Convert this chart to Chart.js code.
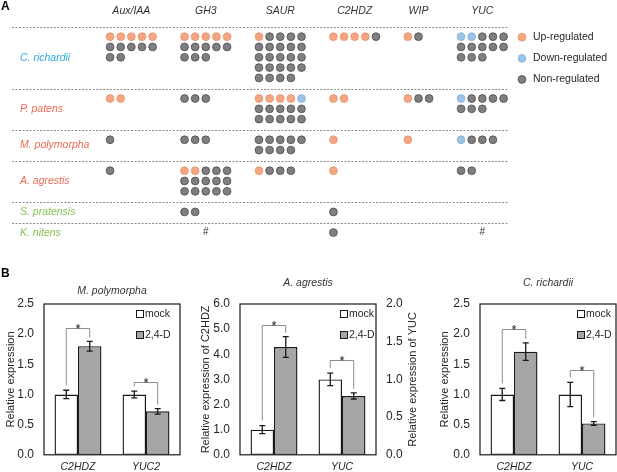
<!DOCTYPE html>
<html>
<head>
<meta charset="utf-8">
<script src="https://cdn.jsdelivr.net/npm/chart.js@4.4.1/dist/chart.umd.min.js"></script>
<style>
  body { margin: 0; background: #fff; }
  #wrap { position: relative; width: 617px; height: 472px; }
  canvas { position: absolute; }
</style>
</head>
<body>
<div id="wrap">
  <canvas id="panelA" width="617" height="258" style="left:0;top:0"></canvas>
  <canvas id="mpChart" width="190" height="210" style="left:0;top:262px"></canvas>
  <canvas id="aaChart" width="230" height="210" style="left:195px;top:262px"></canvas>
  <canvas id="crChart" width="183" height="210" style="left:434px;top:262px"></canvas>
</div>
<script>
const FONT = "'Liberation Sans', Arial, sans-serif";

// ---- panel A: gene family counts per species ----
const genes = ['Aux/IAA', 'GH3', 'SAUR', 'C2HDZ', 'WIP', 'YUC'];
const species = ['C. richardii', 'P. patens', 'M. polymorpha', 'A. agrestis', 'S. pratensis', 'K. nitens'];
const upReg = [
  [5, 5, 1, 4, 1, 0],
  [2, 0, 4, 2, 1, 0],
  [0, 0, 0, 1, 1, 0],
  [0, 2, 1, 1, 0, 0],
  [0, 0, 0, 0, 0, 0],
  [0, 0, 0, 0, 0, 0]
];
const downReg = [
  [0, 0, 0, 0, 0, 2],
  [0, 0, 1, 0, 0, 1],
  [0, 0, 0, 0, 0, 1],
  [0, 0, 0, 0, 0, 0],
  [0, 0, 0, 0, 0, 0],
  [0, 0, 0, 0, 0, 0]
];
// null = marked with '#'
const nonReg = [
  [7, 8, 23, 1, 1, 11],
  [0, 3, 10, 0, 2, 7],
  [1, 3, 9, 0, 0, 3],
  [1, 13, 3, 0, 0, 2],
  [0, 2, 0, 1, 0, 0],
  [0, null, 0, 1, 0, null]
];
const regLabels = ['Up-regulated', 'Down-regulated', 'Non-regulated'];

// ---- panel B: qRT-PCR ----
const mpGenes = ['C2HDZ', 'YUC2'];
const mpMock = [1.0, 1.0];
const mpMockErr = [0.07, 0.055];
const mpTreat = [1.8, 0.72];
const mpTreatErr = [0.08, 0.045];
const mpSigTop = [2.1, 1.2];
const mpTicks = [0, 0.5, 1.0, 1.5, 2.0, 2.5];

const aaGenes = ['C2HDZ', 'YUC'];
const aaMock = [1.0, 1.0];
const aaMockErr = [0.16, 0.083];
const aaTreat = [4.29, 0.78];
const aaTreatErr = [0.41, 0.04];
const aaSigTop = [5.17, 1.26];
const aaTicksLeft = [0, 1.0, 2.0, 3.0, 4.0, 5.0, 6.0];
const aaTicksRight = [0, 0.5, 1.0, 1.5, 2.0];

const crGenes = ['C2HDZ', 'YUC'];
const crMock = [1.0, 1.0];
const crMockErr = [0.1, 0.2];
const crTreat = [1.71, 0.52];
const crTreatErr = [0.145, 0.03];
const crSigTop = [2.09, 1.4];
const crTicks = [0, 0.5, 1.0, 1.5, 2.0, 2.5];

const dotStyle = {
  up:   { fill: '#f4a582', line: '#e8936c' },
  down: { fill: '#9dc3e6', line: '#86b0d8' },
  non:  { fill: '#7f7f7f', line: '#4d4d4d' }
};
const speciesColors = ['#2ea7dc', '#ec6b55', '#ec6b55', '#ec6b55', '#86c157', '#86c157'];

// layout of the dot grid
const perRow = 5;
const total = (i, j) => upReg[i][j] + downReg[i][j] + (nonReg[i][j] || 0);
const colWidth = genes.map((g, j) => Math.min(perRow, Math.max(...species.map((s, i) => total(i, j)))));
const colStart = [];
let acc = 0;
colWidth.forEach(w => { colStart.push(acc); acc += w + 2; });
const rowCount = species.map((s, i) => Math.max(1, ...genes.map((g, j) => Math.ceil(total(i, j) / perRow))));
const secStart = [];
acc = 0;
rowCount.forEach(n => { secStart.push(acc); acc += n + 1; });

const pts = { up: [], down: [], non: [] };
species.forEach((s, i) => {
  genes.forEach((g, j) => {
    const list = [];
    for (let k = 0; k < upReg[i][j]; k++) list.push('up');
    for (let k = 0; k < downReg[i][j]; k++) list.push('down');
    for (let k = 0; k < (nonReg[i][j] || 0); k++) list.push('non');
    list.forEach((t, k) => {
      pts[t].push({ x: colStart[j] + k % perRow, y: secStart[i] + 0.95 + Math.floor(k / perRow) });
    });
  });
});

const panelAPlugin = {
  id: 'panelADecor',
  beforeDatasetsDraw(chart) {
    const { ctx, scales: { x, y } } = chart;
    ctx.save();
    ctx.strokeStyle = '#8c8c8c';
    ctx.lineWidth = 1;
    ctx.setLineDash([2, 1.5]);
    const last = genes.length - 1;
    const xEnd = x.getPixelForValue(colStart[last] + colWidth[last] - 1) + 5;
    secStart.forEach(u => {
      const py = Math.round(y.getPixelForValue(u)) + 0.5;
      ctx.beginPath();
      ctx.moveTo(12, py);
      ctx.lineTo(xEnd, py);
      ctx.stroke();
    });
    ctx.restore();
  },
  afterDraw(chart) {
    const { ctx, scales: { x, y } } = chart;
    ctx.save();
    ctx.fillStyle = '#000';
    ctx.font = 'bold 12px ' + FONT;
    ctx.textBaseline = 'alphabetic';
    ctx.fillText('A', 1, 9.5);

    ctx.textBaseline = 'middle';
    ctx.textAlign = 'center';
    ctx.font = 'italic 10.5px ' + FONT;
    ctx.fillStyle = '#333';
    genes.forEach((g, j) => {
      ctx.fillText(g, x.getPixelForValue(colStart[j] + (colWidth[j] - 1) / 2), 11);
    });

    ctx.textAlign = 'left';
    species.forEach((s, i) => {
      ctx.fillStyle = speciesColors[i];
      ctx.fillText(s, 20, y.getPixelForValue(secStart[i] + (rowCount[i] + 1) / 2));
    });

    ctx.textAlign = 'center';
    ctx.fillStyle = '#333';
    ctx.font = '10px ' + FONT;
    species.forEach((s, i) => genes.forEach((g, j) => {
      if (nonReg[i][j] === null) {
        ctx.fillText('#', x.getPixelForValue(colStart[j] + (colWidth[j] - 1) / 2), y.getPixelForValue(secStart[i] + 0.95));
      }
    }));

    // legend
    ctx.textAlign = 'left';
    ctx.font = '10.5px ' + FONT;
    ['up', 'down', 'non'].forEach((k, n) => {
      const py = y.getPixelForValue(1.0 + n * 2.05);
      ctx.beginPath();
      ctx.arc(522, py, 3.9, 0, Math.PI * 2);
      ctx.fillStyle = dotStyle[k].fill;
      ctx.fill();
      ctx.lineWidth = 0.8;
      ctx.strokeStyle = dotStyle[k].line;
      ctx.stroke();
      ctx.fillStyle = '#262626';
      ctx.fillText(regLabels[n], 533, py);
    });
    ctx.restore();
  }
};

const dotSet = (k) => ({
  data: pts[k],
  pointRadius: 3.9,
  pointHoverRadius: 3.9,
  backgroundColor: dotStyle[k].fill,
  borderColor: dotStyle[k].line,
  borderWidth: 0.8,
  clip: false
});

new Chart(document.getElementById('panelA'), {
  type: 'scatter',
  data: { datasets: [dotSet('up'), dotSet('down'), dotSet('non')] },
  options: {
    responsive: false,
    animation: false,
    layout: { padding: 0 },
    plugins: { legend: { display: false }, tooltip: { enabled: false } },
    scales: {
      x: { type: 'linear', display: false, min: -107 / 10.8, max: (617 - 107) / 10.8 },
      y: { type: 'linear', display: false, reverse: true, min: -23 / 10.7, max: (258 - 23) / 10.7 }
    }
  },
  plugins: [panelAPlugin]
});

// ---- panel B charts ----
const barDecor = {
  id: 'barDecor',
  afterDatasetsDraw(chart, args, o) {
    const { ctx, chartArea: ca } = chart;
    ctx.save();
    // frame
    ctx.strokeStyle = '#1a1a1a';
    ctx.lineWidth = 1.2;
    ctx.strokeRect(ca.left, ca.top, ca.right - ca.left, ca.bottom - ca.top);

    // error bars
    ctx.lineWidth = 1.3;
    chart.data.datasets.forEach((ds, d) => {
      const meta = chart.getDatasetMeta(d);
      const sc = chart.scales[ds.yAxisID];
      meta.data.forEach((bar, i) => {
        const v = ds.data[i];
        if (v === null) return;
        const e = ds.err[i];
        const y1 = sc.getPixelForValue(v + e), y2 = sc.getPixelForValue(v - e);
        ctx.beginPath();
        ctx.moveTo(bar.x, y1); ctx.lineTo(bar.x, y2);
        ctx.moveTo(bar.x - 3, y1); ctx.lineTo(bar.x + 3, y1);
        ctx.moveTo(bar.x - 3, y2); ctx.lineTo(bar.x + 3, y2);
        ctx.stroke();
      });
    });

    // significance brackets
    o.genes.forEach((g, i) => {
      const ax = o.axes[i];
      let mockBar, treatBar, mockDs, treatDs;
      chart.data.datasets.forEach((ds, d) => {
        if (ds.yAxisID !== ax || ds.data[i] === null) return;
        const bar = chart.getDatasetMeta(d).data[i];
        if (ds.label === 'mock') { mockBar = bar; mockDs = ds; } else { treatBar = bar; treatDs = ds; }
      });
      const sc = chart.scales[ax];
      const top = Math.round(sc.getPixelForValue(o.sigTop[i])) + 0.5;
      const lb = sc.getPixelForValue(mockDs.data[i] + mockDs.err[i]) - 5;
      const rb = sc.getPixelForValue(treatDs.data[i] + treatDs.err[i]) - 4;
      ctx.strokeStyle = '#8c8c8c';
      ctx.lineWidth = 1;
      ctx.beginPath();
      ctx.moveTo(mockBar.x, lb); ctx.lineTo(mockBar.x, top);
      ctx.lineTo(treatBar.x, top); ctx.lineTo(treatBar.x, rb);
      ctx.stroke();
      ctx.fillStyle = '#1a1a1a';
      ctx.font = '13px ' + FONT;
      ctx.textAlign = 'center';
      ctx.textBaseline = 'alphabetic';
      ctx.fillText('*', (mockBar.x + treatBar.x) / 2, top + 4);
    });

    // legend
    ctx.font = '10.5px ' + FONT;
    ctx.textAlign = 'left';
    ctx.textBaseline = 'middle';
    [['mock', '#ffffff'], ['2,4-D', '#a6a6a6']].forEach(([lab, col], n) => {
      const lx = ca.right + o.legendDx, ly = ca.top + 10 + n * 21;
      ctx.fillStyle = col;
      ctx.fillRect(lx, ly - 3.5, 7, 7);
      ctx.strokeStyle = '#1a1a1a';
      ctx.lineWidth = 1;
      ctx.strokeRect(lx + 0.5, ly - 3.5, 7, 7);
      ctx.fillStyle = '#262626';
      ctx.fillText(lab, lx + 9, ly);
    });

    // chart title
    ctx.font = 'italic 10.5px ' + FONT;
    ctx.textAlign = 'center';
    ctx.fillStyle = '#333';
    ctx.fillText(o.title, (ca.left + ca.right) / 2, o.titleY);

    // right axis title (reads bottom-to-top)
    if (o.rightTitle) {
      ctx.save();
      ctx.translate(o.rightTitleX, (ca.top + ca.bottom) / 2);
      ctx.rotate(-Math.PI / 2);
      ctx.font = '11px ' + FONT;
      ctx.fillStyle = '#262626';
      ctx.fillText(o.rightTitle, 0, 0);
      ctx.restore();
    }
    if (o.panelLabel) {
      ctx.font = 'bold 12px ' + FONT;
      ctx.textAlign = 'left';
      ctx.textBaseline = 'alphabetic';
      ctx.fillStyle = '#000';
      ctx.fillText(o.panelLabel, 1, 15);
    }
    ctx.restore();
  }
};

function barChart(id, o) {
  const axisIds = [...new Set(o.axes)];
  const datasets = [];
  axisIds.forEach(ax => {
    const pick = arr => arr.map((v, i) => o.axes[i] === ax ? v : null);
    const common = {
      yAxisID: ax,
      borderColor: '#1a1a1a',
      borderWidth: 1.4,
      borderSkipped: false,
      skipNull: true,
      categoryPercentage: 0.69,
      barPercentage: 1
    };
    datasets.push(Object.assign({ label: 'mock', data: pick(o.mock), err: pick(o.mockErr), backgroundColor: '#ffffff' }, common));
    datasets.push(Object.assign({ label: '2,4-D', data: pick(o.treat), err: pick(o.treatErr), backgroundColor: '#a6a6a6' }, common));
  });

  const scales = {
    x: {
      grid: { display: false, drawTicks: false },
      border: { display: false },
      ticks: { color: '#262626', font: { family: FONT, size: 10.5, style: 'italic' }, padding: 6 },
      afterFit: s => { s.height = 16; }
    }
  };
  axisIds.forEach((ax, k) => {
    const tk = o.ticks[k];
    scales[ax] = {
      position: k === 0 ? 'left' : 'right',
      min: tk[0],
      max: tk[tk.length - 1],
      afterBuildTicks: a => { a.ticks = tk.map(v => ({ value: v })); },
      grid: { display: false, drawTicks: false },
      border: { display: false },
      ticks: { color: '#262626', font: { family: FONT, size: 12 }, padding: 10, callback: v => v.toFixed(1) },
      title: {
        display: k === 0,
        text: o.yTitle,
        color: '#262626',
        font: { family: FONT, size: 11 },
        padding: { top: 4, bottom: 0 }
      },
      afterFit: s => { s.width = o.axisW[k]; }
    };
  });

  new Chart(document.getElementById(id), {
    type: 'bar',
    data: { labels: o.genes, datasets },
    options: {
      responsive: false,
      animation: false,
      layout: { padding: { top: 42, right: o.padRight, left: 0, bottom: 0 } },
      plugins: { legend: { display: false }, tooltip: { enabled: false }, barDecor: o },
      scales
    },
    plugins: [barDecor]
  });
}

barChart('mpChart', {
  genes: mpGenes, mock: mpMock, mockErr: mpMockErr, treat: mpTreat, treatErr: mpTreatErr,
  sigTop: mpSigTop, axes: ['y', 'y'], ticks: [mpTicks], axisW: [44], padRight: 10,
  yTitle: 'Relative expression', title: 'M. polymorpha', titleY: 29, legendDx: -44, panelLabel: 'B'
});

barChart('aaChart', {
  genes: aaGenes, mock: aaMock, mockErr: aaMockErr, treat: aaTreat, treatErr: aaTreatErr,
  sigTop: aaSigTop, axes: ['y', 'y2'], ticks: [aaTicksLeft, aaTicksRight], axisW: [45, 49], padRight: 0,
  yTitle: 'Relative expression of C2HDZ', rightTitle: 'Relative expression of YUC', rightTitleX: 218,
  title: 'A. agrestis', titleY: 21, legendDx: -36
});

barChart('crChart', {
  genes: crGenes, mock: crMock, mockErr: crMockErr, treat: crTreat, treatErr: crTreatErr,
  sigTop: crSigTop, axes: ['y', 'y'], ticks: [crTicks], axisW: [46], padRight: 1,
  yTitle: 'Relative expression', title: 'C. richardii', titleY: 21, legendDx: -39
});
</script>
</body>
</html>
